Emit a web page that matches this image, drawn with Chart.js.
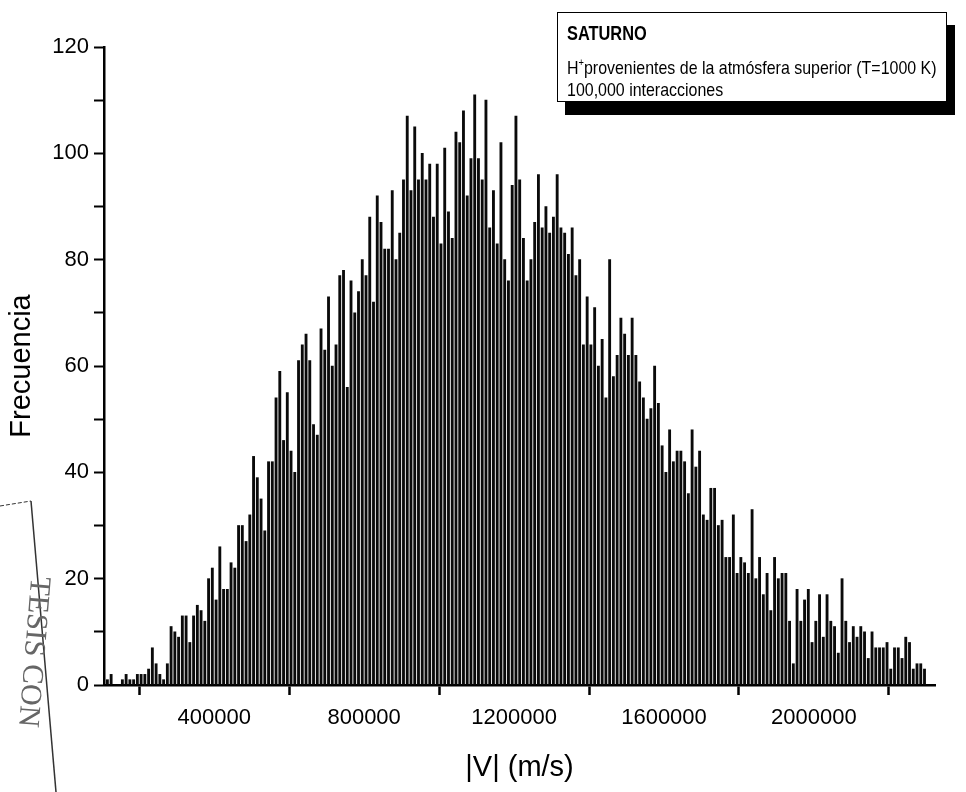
<!DOCTYPE html>
<html lang="es">
<head>
<meta charset="utf-8">
<title>Saturno: distribución de |V|</title>
<script src="https://cdn.jsdelivr.net/npm/chart.js@4/dist/chart.umd.min.js"></script>
<style>
  html, body { margin: 0; padding: 0; background: #fff; }
  #lienzo { position: relative; width: 966px; height: 792px; overflow: hidden; }
  #grafica { position: absolute; left: 0; top: 0; }
  #nota {
    position: absolute; left: 557px; top: 12px; width: 390px; height: 90px;
    box-sizing: border-box; border: 1.5px solid #000; background: #fff;
    box-shadow: 8px 13px 0 #000;
    font-family: "Liberation Sans", Arial, sans-serif;
    color: #000;
  }
  #nota div {
    position: absolute; left: 9px; white-space: nowrap;
    font-size: 19px; line-height: 19px;
    transform: scaleX(0.84); transform-origin: 0 0;
  }
  #nota .titulo { font-weight: bold; top: 11px; font-size: 19.5px; }
  #nota .l2 { top: 45px; }
  #nota .l3 { top: 67px; }
  #nota sup { font-size: 11px; line-height: 0; vertical-align: 8px; }
</style>
</head>
<body>
<div id="lienzo">
  <canvas id="grafica" width="966" height="792"></canvas>
  <div id="nota">
    <div class="titulo">SATURNO</div>
    <div class="l2">H<sup>+</sup>provenientes de la atmósfera superior (T=1000 K)</div>
    <div class="l3">100,000 interacciones</div>
  </div>
</div>
<script>
// Histogram bins: centre of the first bin and bin width (m/s)
const primerCentro = 115000;
const anchoBin = 10000;

// Counts per bin
const frecuencia = [
  1, 2, 0, 0, 1, 2, 1, 1, 2, 2, 2, 3, 7, 4, 2, 1, 4, 11, 10, 9,
  13, 13, 8, 13, 15, 14, 12, 20, 22, 16, 26, 18, 18, 23, 22,
  30, 30, 27, 32, 43, 39, 35, 29, 42, 42, 54, 59, 46, 55, 44, 40,
  61, 64, 66, 61, 49, 47, 67, 63, 73, 60, 64, 77, 78, 56, 76, 70,
  74, 80, 77, 88, 72, 92,
  87, 82, 82, 93, 80, 85, 95, 107, 93, 105, 95, 100, 95, 98, 88, 98,
  83, 101, 89, 84, 104, 102, 108, 92, 99, 111, 99, 95, 110, 86, 93, 83,
  102, 80, 76, 94, 107,
  95, 84, 76, 80, 87, 96, 86, 90, 85, 88, 96, 86, 85, 81, 86, 77,
  80, 64, 73, 64, 71, 60, 65, 54, 80, 58, 62, 69, 66, 62, 69, 62,
  57, 54, 50, 52, 60, 53,
  45, 40, 48, 42, 44, 44, 42, 36, 48, 41, 44, 32, 31, 37, 37, 30,
  31, 24, 24, 32, 21, 24, 23, 21, 33, 20, 24, 17, 21, 14, 24, 20,
  21, 21, 12, 4, 18, 12,
  16, 18, 8, 12, 17, 9, 17, 12, 11, 6, 20, 12, 8, 11, 9, 11,
  10, 5, 10, 7, 7, 7, 8, 3, 7, 7, 5, 9, 8, 3, 4, 4, 3
];

// Bin centres (m/s)
const velocidades = frecuencia.map((_, i) => primerCentro + i * anchoBin);

// Axis ticks: labelled values, and the outer marks drawn between them
const xTickValues = [400000, 800000, 1200000, 1600000, 2000000];
const xTickLabels = ['400000', '800000', '1200000', '1600000', '2000000'];
const xMarkValues = [200000, 600000, 1000000, 1400000, 1800000, 2200000];
const yTickValues = [0, 20, 40, 60, 80, 100, 120];
const yTickLabels = ['0', '20', '40', '60', '80', '100', '120'];
const yMinorValues = [10, 30, 50, 70, 90, 110];

Chart.defaults.font.family = '"Liberation Sans", Arial, sans-serif';
Chart.defaults.color = '#000';

// Rubber stamp in the lower-left margin
const sello = {
  id: 'sello',
  afterDraw(chart) {
    const c = chart.ctx;
    c.save();
    c.strokeStyle = '#333';
    c.lineWidth = 1;
    c.setLineDash([4, 2]);
    c.beginPath();
    c.moveTo(0, 506);
    c.lineTo(31, 501);
    c.stroke();
    c.setLineDash([]);
    c.lineWidth = 1.5;
    c.beginPath();
    c.moveTo(31, 501);
    c.lineTo(56, 792);
    c.stroke();
    c.translate(33, 652);
    c.rotate(Math.PI / 2 + 0.08);
    c.fillStyle = '#666';
    c.font = '30px "Liberation Serif", serif';
    c.textAlign = 'center';
    c.textBaseline = 'middle';
    c.fillText('TESIS CON', 0, 0);
    c.restore();
  }
};

new Chart(document.getElementById('grafica'), {
  type: 'bar',
  data: {
    labels: velocidades,
    datasets: [{
      data: frecuencia,
      backgroundColor: '#0a0a0a',
      borderWidth: 0,
      barThickness: 2.2
    }]
  },
  options: {
    responsive: false,
    animation: false,
    layout: { padding: { top: 47, right: 31, left: 0, bottom: 0 } },
    plugins: {
      legend: { display: false },
      tooltip: { enabled: false }
    },
    scales: {
      x: {
        type: 'linear',
        min: 106000,
        max: 2323000,
        offset: false,
        afterFit(scale) { scale.height = 107; },
        afterBuildTicks(scale) {
          scale.ticks = xMarkValues.concat(xTickValues).sort((a, b) => a - b).map(v => ({ value: v }));
        },
        border: { display: true, color: '#000', width: 2.5 },
        grid: {
          offset: false,
          drawOnChartArea: false,
          drawTicks: true,
          tickLength: 10,
          tickWidth: 2.5,
          tickColor: (ctx) => (ctx.tick && xMarkValues.includes(ctx.tick.value)) ? '#000' : 'rgba(0,0,0,0)'
        },
        ticks: {
          autoSkip: false,
          maxRotation: 0,
          minRotation: 0,
          padding: 10,
          font: { size: 22 },
          callback(value) {
            const i = xTickValues.indexOf(value);
            return i >= 0 ? xTickLabels[i] : '';
          }
        },
        title: {
          display: true,
          text: '|V| (m/s)',
          font: { size: 29 },
          padding: { top: 0, bottom: 7 }
        }
      },
      y: {
        min: 0,
        max: 120,
        afterFit(scale) { scale.width = 104; },
        afterBuildTicks(scale) {
          scale.ticks = yTickValues.concat(yMinorValues).sort((a, b) => a - b).map(v => ({ value: v }));
        },
        border: { display: true, color: '#000', width: 2.5 },
        grid: {
          drawOnChartArea: false,
          drawTicks: true,
          tickLength: 10,
          tickWidth: 2,
          tickColor: '#000'
        },
        ticks: {
          autoSkip: false,
          padding: 5,
          font: { size: 22 },
          callback(value) {
            const i = yTickValues.indexOf(value);
            return i >= 0 ? yTickLabels[i] : '';
          }
        },
        title: {
          display: true,
          text: 'Frecuencia',
          font: { size: 29 },
          padding: { top: 5, bottom: 0 }
        }
      }
    }
  },
  plugins: [sello]
});
</script>
</body>
</html>
